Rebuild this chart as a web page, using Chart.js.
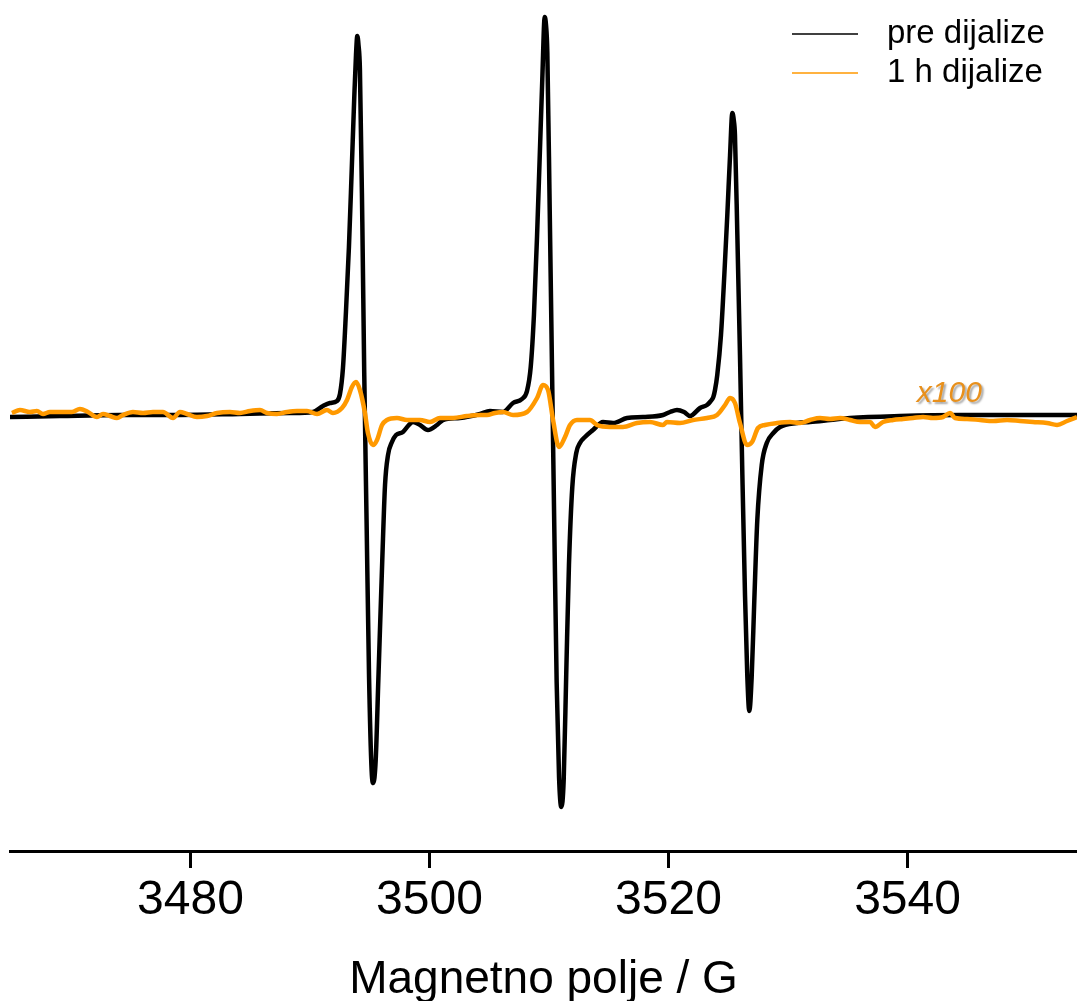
<!DOCTYPE html>
<html>
<head>
<meta charset="utf-8">
<script src="https://cdn.jsdelivr.net/npm/chart.js@4.4.1/dist/chart.umd.min.js"></script>
<style>
	html, body { margin: 0; padding: 0; background: #fff; }
	#wrap { width: 1077px; height: 1001px; }
</style>
</head>
<body>
<div id="wrap"><canvas id="epr" width="1077" height="1001"></canvas></div>
<script>
// EPR spektar, pre i posle 1 h dijalize (narandžasti x100)
const fieldBlack = [
	3464.90, 3469.08, 3474.10, 3479.12, 3484.14, 3488.33, 3490.25, 3491.09, 3491.67, 3492.26,
	3492.51, 3492.76, 3493.01, 3493.26, 3493.49, 3493.71, 3493.85, 3493.96, 3494.06, 3494.18,
	3494.38, 3494.54, 3494.74, 3494.94, 3495.16, 3495.30, 3495.50, 3495.72, 3496.05, 3496.28,
	3496.53, 3496.86, 3497.20, 3497.78, 3498.20, 3498.62, 3499.21, 3499.87, 3500.63, 3501.13,
	3502.55, 3504.23, 3505.06, 3506.15, 3506.99, 3507.74, 3508.16, 3508.47, 3508.74, 3509.00,
	3509.22, 3509.44, 3509.64, 3509.75, 3509.86, 3510.06, 3510.25, 3510.44, 3510.64, 3510.84,
	3511.03, 3511.23, 3511.45, 3511.67, 3511.95, 3512.28, 3512.59, 3513.01, 3513.68, 3514.52,
	3515.36, 3516.53, 3517.87, 3519.54, 3520.13, 3520.71, 3521.30, 3521.80, 3522.64, 3523.22,
	3523.47, 3523.75, 3523.89, 3524.08, 3524.39, 3524.67, 3524.92, 3525.15, 3525.34, 3525.46,
	3525.56, 3525.76, 3525.98, 3526.18, 3526.40, 3526.59, 3526.76, 3526.96, 3527.18, 3527.43,
	3527.80, 3528.22, 3528.77, 3529.33, 3530.75, 3531.84, 3533.52, 3535.19, 3539.37, 3544.39,
	3549.41, 3554.18
];
const signalBlack = [
	-2, -1, 0, 0, 1, 2, 3, 9, 12, 14,
	21, 47, 103, 168, 244, 319, 360, 379, 370, 345,
	193, 42, -109, -260, -356, -368, -345, -265, -145, -70,
	-40, -27, -20, -17, -11, -7, -10, -15, -10, -5,
	-3, 1, 4, 3, 12, 16, 24, 48, 100, 179,
	257, 336, 398, 390, 363, 205, 48, -110, -267, -362,
	-392, -365, -255, -150, -72, -38, -28, -22, -15, -7,
	-8, -3, -2, 0, 3, 5, 3, -1, 7, 10,
	13, 18, 25, 40, 80, 140, 200, 260, 302, 295,
	280, 180, 60, -60, -180, -260, -296, -262, -185, -105,
	-50, -28, -18, -12, -8, -7, -5, -3, -1, 0,
	0, 0
];
const fieldOrange = [
	3465.06, 3465.73, 3466.57, 3467.15, 3467.66, 3468.24, 3469.33, 3470.08, 3470.75, 3471.42,
	3472.18, 3472.68, 3473.26, 3473.85, 3474.35, 3475.19, 3476.03, 3476.86, 3477.70, 3478.54,
	3479.12, 3479.71, 3480.54, 3481.38, 3482.22, 3483.31, 3484.14, 3484.98, 3485.82, 3486.40,
	3487.24, 3488.08, 3488.91, 3489.75, 3490.59, 3491.42, 3491.92, 3492.68, 3493.10, 3493.51,
	3493.85, 3494.18, 3494.60, 3494.85, 3495.27, 3495.61, 3496.03, 3496.44, 3497.28, 3498.12,
	3499.21, 3500.04, 3500.88, 3501.97, 3503.14, 3504.23, 3504.81, 3505.48, 3506.15, 3506.99,
	3508.16, 3509.00, 3509.50, 3509.92, 3510.34, 3510.84, 3511.34, 3511.76, 3512.34, 3513.43,
	3514.02, 3515.10, 3516.19, 3517.36, 3518.45, 3519.54, 3519.87, 3520.96, 3522.05, 3523.22,
	3524.06, 3524.73, 3525.15, 3525.56, 3525.98, 3526.57, 3526.99, 3527.49, 3528.07, 3529.08,
	3530.17, 3531.00, 3531.84, 3532.68, 3533.52, 3534.35, 3535.19, 3536.03, 3536.86, 3537.28,
	3537.95, 3538.79, 3539.62, 3540.46, 3541.30, 3542.13, 3542.97, 3543.56, 3543.97, 3544.98,
	3546.07, 3547.16, 3548.33, 3549.41, 3550.50, 3551.67, 3552.51, 3553.35, 3554.18
];
const signalOrange = [
	2, 5, 3, 4, 1, 3, 3, 3, 6, 3,
	-2, 1, -1, -3, 0, 3, 2, 3, 3, -3,
	3, 1, -2, -1, 2, 3, 2, 4, 5, 2,
	1, 3, 4, 4, 1, 5, 2, 7, 15, 28,
	33, 25, 2, -18, -30, -25, -10, -5, -3, -5,
	-5, -7, -3, -3, -1, 0, 0, 2, 3, 0,
	3, 17, 30, 25, -5, -32, -22, -10, -5, -5,
	-10, -12, -12, -8, -7, -10, -7, -8, -5, -3,
	0, 10, 17, 12, -8, -30, -27, -13, -10, -8,
	-7, -8, -5, -3, -4, -3, -5, -7, -7, -12,
	-7, -5, -4, -3, -2, -3, -2, 2, -3, -4,
	-5, -6, -5, -6, -7, -8, -10, -6, -2
];
const tickValues = [3480, 3500, 3520, 3540];
const seriesLabels = ["pre dijalize", "1 h dijalize"];
const seriesColors = ["#000000", "#FF9900"];
const scaleNote = "x100";

const fontFamily = "'Liberation Sans', Arial, sans-serif";

const eprLegend = {
	id: "eprLegend",
	afterDraw(chart) {
		const { ctx } = chart;
		ctx.save();
		ctx.font = "33px " + fontFamily;
		ctx.textBaseline = "middle";
		ctx.textAlign = "left";
		const rows = [34, 73];
		seriesLabels.forEach((label, i) => {
			ctx.strokeStyle = seriesColors[i];
			ctx.lineWidth = 1.5;
			ctx.beginPath();
			ctx.moveTo(792, rows[i]);
			ctx.lineTo(858, rows[i]);
			ctx.stroke();
			ctx.fillStyle = "#000";
			ctx.fillText(label, 887, rows[i]);
		});
		ctx.restore();
	}
};

const noteLabel = {
	id: "noteLabel",
	afterDatasetsDraw(chart) {
		const { ctx, scales: { x, y } } = chart;
		ctx.save();
		ctx.font = "italic 30px " + fontFamily;
		ctx.textAlign = "center";
		ctx.textBaseline = "alphabetic";
		ctx.shadowColor = "rgba(0,0,0,0.35)";
		ctx.shadowOffsetX = 2;
		ctx.shadowOffsetY = 2;
		ctx.shadowBlur = 2;
		ctx.fillStyle = "#E8901C";
		ctx.fillText(scaleNote, x.getPixelForValue(3543.5), y.getPixelForValue(13));
		ctx.restore();
	}
};

const ctx = document.getElementById("epr").getContext("2d");
const config = {
	type: "line",
	data: {
		datasets: [
			{
				label: seriesLabels[1],
				data: fieldOrange.map((f, i) => ({ x: f, y: signalOrange[i] })),
				borderColor: seriesColors[1],
				borderWidth: 4.5,
				pointRadius: 0,
				cubicInterpolationMode: "monotone",
				order: 0
			},
			{
				label: seriesLabels[0],
				data: fieldBlack.map((f, i) => ({ x: f, y: signalBlack[i] })),
				borderColor: seriesColors[0],
				borderWidth: 4.5,
				pointRadius: 0,
				cubicInterpolationMode: "monotone",
				order: 1
			}
		]
	},
	options: {
		responsive: false,
		animation: false,
		layout: { padding: { left: 10, right: 0, top: 0, bottom: 0 } },
		plugins: {
			legend: { display: false },
			tooltip: { enabled: false }
		},
		scales: {
			x: {
				type: "linear",
				min: 3464.9,
				max: 3554.18,
				border: { display: true, color: "#000", width: 3 },
				grid: { drawOnChartArea: false, drawTicks: true, tickLength: 17, tickWidth: 3, tickColor: "#000" },
				ticks: {
					stepSize: 20,
					includeBounds: false,
					autoSkip: false,
					maxRotation: 0,
					padding: 4,
					color: "#000",
					font: { family: fontFamily, size: 48 },
					callback: (value) => String(value)
				},
				afterBuildTicks: (scale) => {
					scale.ticks = tickValues.map((v) => ({ value: v }));
				},
				title: {
					display: true,
					text: "Magnetno polje / G",
					color: "#000",
					font: { family: fontFamily, size: 46, lineHeight: 0.9 },
					padding: { top: 26, bottom: 0 }
				}
			},
			y: {
				display: false,
				min: -436,
				max: 415
			}
		}
	},
	plugins: [eprLegend, noteLabel]
};

var eprChart = new Chart(ctx, config);
</script>
</body>
</html>
